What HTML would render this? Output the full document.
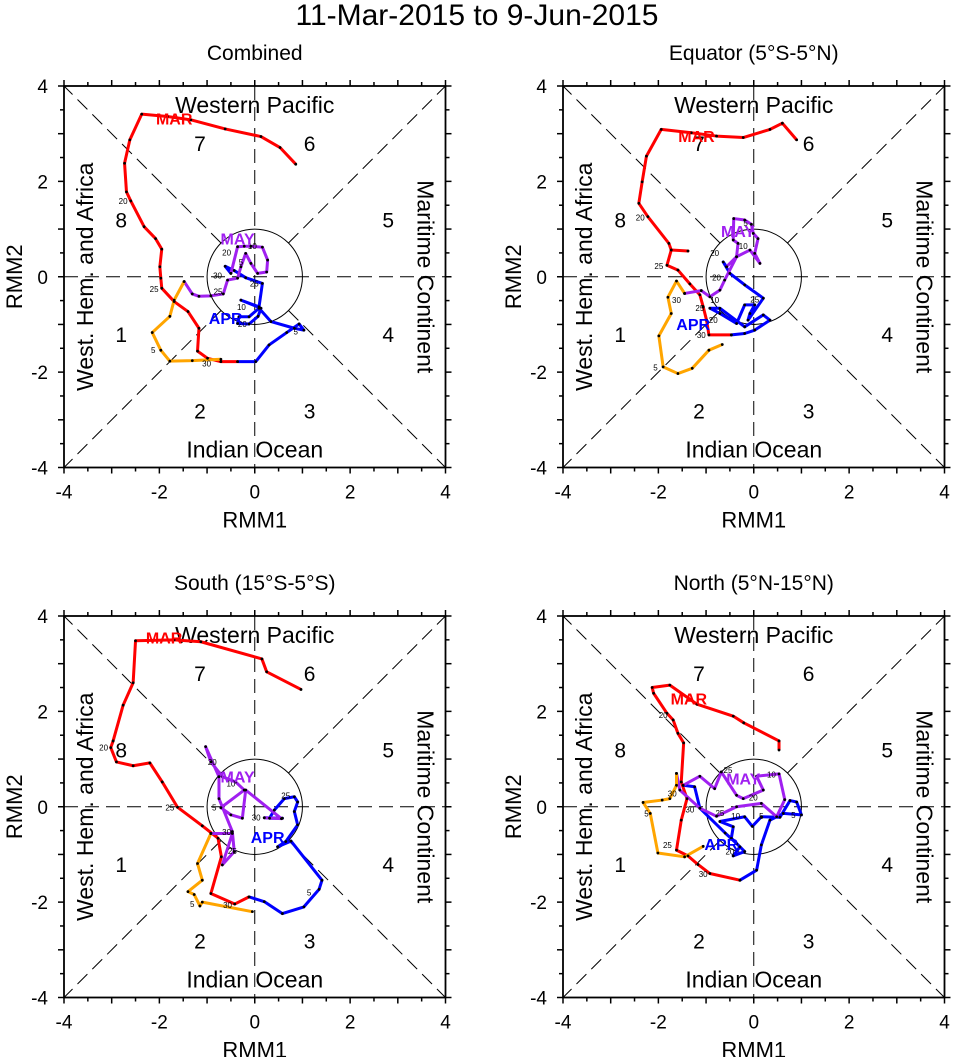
<!DOCTYPE html>
<html><head><meta charset="utf-8"><style>
html,body{margin:0;padding:0;background:#fff}
svg{display:block;font-family:"Liberation Sans",Arial,sans-serif}
</style></head><body>
<svg id="chart" width="956" height="1057" viewBox="0 0 956 1057" xmlns="http://www.w3.org/2000/svg">
<text x="477" y="25" text-anchor="middle" font-size="30">11-Mar-2015 to 9-Jun-2015</text>
</svg>
<script>
const panelTitles = ["Combined","Equator (5°S-5°N)","South (15°S-5°S)","North (5°N-15°N)"];
const axisTicks = [-4,-2,0,2,4];
const tickLabels = ["-4","-2","0","2","4"];
const phaseNumbers = ["1","2","3","4","5","6","7","8"];

// Panel 1: Combined
const p1Mar = [[0.86,2.36],[0.53,2.71],[0.13,2.94],[-0.62,3.10],[-1.34,3.29],[-1.83,3.36],[-2.37,3.41],[-2.62,2.87],[-2.73,2.38],[-2.69,1.78],[-2.60,1.59],[-2.32,1.05],[-2.08,0.80],[-1.95,0.58],[-1.99,0.21],[-1.97,-0.03],[-1.95,-0.24],[-1.69,-0.52],[-1.40,-0.73],[-1.17,-1.08],[-1.20,-1.56],[-0.99,-1.71],[-0.71,-1.78],[-0.36,-1.78]];
const p1Apr = [[-0.36,-1.78],[0.02,-1.78],[0.30,-1.43],[0.67,-1.17],[0.93,-0.99],[1.03,-1.12],[0.83,-1.08],[0.34,-0.94],[0.09,-0.66],[-0.12,-0.84],[-0.33,-0.84],[-0.36,-0.98],[-0.12,-0.99],[0.07,-0.83],[0.13,-0.66],[-0.29,-0.49],[0.09,-0.63],[0.16,-0.14],[-0.19,-0.02],[-0.43,0.13],[-0.62,0.22],[-0.50,0.07]];
const p1May = [[-0.50,0.07],[-0.36,0.63],[-0.22,0.64],[-0.08,0.64],[0.16,0.62],[0.27,0.35],[0.25,0.10],[0.06,0.07],[-0.08,0.28],[-0.19,0.49],[-0.29,0.21],[-0.36,-0.03],[-0.57,-0.07],[-0.66,-0.36],[-0.92,-0.40],[-1.17,-0.41],[-1.31,-0.36],[-1.48,-0.10]];
const p1Jun = [[-1.48,-0.10],[-1.69,-0.49],[-1.78,-0.83],[-2.15,-1.17],[-1.97,-1.54],[-1.78,-1.77],[-1.31,-1.76],[-0.71,-1.73]];
const p1Months = [["MAR",-1.69,3.32,"#ff0000"],["APR",-0.61,-0.87,"#0000ff"],["MAY",-0.36,0.80,"#a020f0"]];
const p1Days = [["20",-2.76,1.59],["25",-2.11,-0.26],["5",-2.13,-1.54],["30",-1.01,-1.82],["30",-0.78,0.03],["25",-0.77,-0.31],["20",-0.59,0.51],["5",-0.29,0.31],["10",-0.05,0.64],["25",-0.01,-0.14],["10",-0.28,-0.63],["20",-0.26,-0.99],["5",0.86,-1.15]];

// Panel 2: Equator
const p2Mar = [[0.90,2.87],[0.60,3.22],[0.34,3.09],[-0.22,2.92],[-0.78,2.95],[-1.31,3.02],[-1.94,3.09],[-2.25,2.53],[-2.34,1.99],[-2.41,1.54],[-2.22,1.26],[-1.78,0.70],[-1.73,0.56],[-1.38,0.54],[-1.73,0.56],[-1.82,0.24],[-1.59,0.14],[-1.34,-0.15],[-1.13,-0.38],[-1.06,-0.63],[-0.99,-0.91],[-0.94,-1.22],[-0.47,-1.22]];
const p2Apr = [[-0.47,-1.22],[-0.19,-1.19],[0.02,-1.12],[0.34,-0.91],[0.20,-0.80],[-0.19,-1.05],[-0.71,-0.66],[-0.92,-0.66],[-0.71,-0.77],[-0.36,-0.98],[-0.19,-0.59],[0.02,-0.59],[-0.08,-0.77],[-0.12,-0.91],[0.20,-0.45],[-0.19,-0.17],[-0.50,0.07],[-0.64,0.31],[-0.57,0.21]];
const p2May = [[-0.57,0.21],[-0.36,0.42],[-0.33,0.70],[-0.43,0.77],[-0.42,1.22],[-0.19,1.19],[-0.05,1.10],[-0.01,0.91],[0.09,0.80],[0.02,0.49],[0.13,0.28],[-0.08,0.56],[-0.36,0.42],[-0.61,-0.07],[-0.71,-0.28],[-0.92,-0.42],[-1.10,-0.29],[-1.45,-0.35]];
const p2Jun = [[-1.45,-0.35],[-1.62,-0.09],[-1.80,-0.43],[-1.73,-0.77],[-1.99,-1.24],[-1.90,-1.89],[-1.59,-2.03],[-1.29,-1.92],[-0.94,-1.54],[-0.66,-1.42]];
const p2Months = [["MAR",-1.20,2.95,"#ff0000"],["APR",-1.27,-0.99,"#0000ff"],["MAY",-0.33,0.96,"#a020f0"]];
const p2Days = [["20",-2.38,1.24],["25",-1.99,0.23],["5",-2.06,-1.90],["30",-1.62,-0.49],["20",-0.82,0.50],["20",-0.78,-0.02],["10",-0.82,-0.49],["25",-1.13,-0.66],["20",-0.85,-0.91],["30",-1.10,-1.22],["10",-0.22,0.65],["25",0.02,-0.48],["5",-0.17,1.13]];

// Panel 3: South
const p3Mar = [[0.97,2.46],[0.25,2.83],[0.15,3.10],[-1.13,3.46],[-1.69,3.50],[-2.50,3.48],[-2.55,2.60],[-2.76,2.13],[-2.97,1.38],[-3.02,1.24],[-2.90,0.94],[-2.55,0.86],[-2.20,0.92],[-1.94,0.52],[-1.62,-0.01],[-1.10,-0.40],[-0.77,-0.66],[-0.70,-1.05],[-0.92,-1.82],[-0.42,-2.04],[-0.12,-1.89]];
const p3Apr = [[-0.12,-1.89],[0.20,-1.99],[0.58,-2.24],[1.03,-2.10],[1.35,-1.73],[1.41,-1.54],[0.76,-0.72],[0.48,-0.84],[0.65,-0.73],[0.90,-0.38],[0.83,-0.10],[0.90,0.10],[0.83,0.21],[0.62,0.17],[0.41,-0.07],[0.31,-0.24],[0.58,-0.24],[0.20,-0.23]];
const p3May = [[0.20,-0.23],[0.56,-0.25],[-0.19,0.35],[-0.26,-0.24],[-0.50,-0.17],[-0.71,-0.02],[-0.22,0.35],[-0.40,0.52],[-0.68,0.63],[-0.92,0.94],[-1.03,1.26],[-0.75,0.63],[-0.75,0.17],[-0.47,-0.52],[-0.43,-0.94],[-0.68,-1.22],[-0.47,-0.56],[-0.92,-0.56]];
const p3Jun = [[-0.92,-0.56],[-1.20,-1.19],[-1.10,-1.54],[-1.40,-1.78],[-1.27,-1.84],[-1.15,-2.08],[-1.10,-2.00],[-0.05,-2.20]];
const p3Months = [["MAR",-1.90,3.55,"#ff0000"],["APR",0.27,-0.63,"#0000ff"],["MAY",-0.36,0.63,"#a020f0"]];
const p3Days = [["20",-3.17,1.24],["25",-1.78,-0.02],["5",-1.31,-2.04],["30",-0.57,-2.06],["20",-0.89,0.94],["10",-0.50,0.49],["5",-0.85,-0.02],["30",-0.59,-0.53],["25",-0.47,-0.93],["30",0.03,-0.23],["25",0.65,0.24],["5",1.14,-1.80]];

// Panel 4: North
const p4Mar = [[0.53,1.19],[0.53,1.38],[-0.21,1.76],[-0.43,1.90],[-1.19,2.15],[-1.76,2.55],[-2.13,2.50],[-2.10,2.38],[-1.82,1.96],[-1.69,1.82],[-1.59,1.54],[-1.47,1.34],[-1.52,0.52],[-1.40,0.17],[-1.52,-0.28],[-1.62,-0.91],[-1.38,-1.03],[-1.17,-1.21],[-0.92,-1.40],[-0.29,-1.54]];
const p4Apr = [[-0.29,-1.54],[0.06,-1.33],[0.16,-0.80],[0.34,-0.28],[0.62,-0.14],[1.00,-0.17],[0.90,0.10],[0.76,0.13],[0.55,-0.22],[0.16,-0.21],[-0.03,-0.41],[-0.19,-0.21],[-0.71,-0.31],[-0.43,-0.42],[-0.47,-0.66],[-0.29,-0.84],[-0.43,-1.03],[-0.19,-0.94],[-0.36,-0.77],[-0.60,-0.55],[-1.13,-0.03],[-1.24,0.42],[-1.48,0.45]];
const p4May = [[-1.48,0.45],[-1.13,0.64],[-0.82,0.38],[-0.68,0.73],[-0.36,0.24],[-0.22,0.17],[0.20,0.35],[0.06,0.64],[0.53,0.69],[0.65,0.15],[0.48,-0.21],[0.16,0.07],[-0.36,0.00],[-0.78,-0.20],[-1.13,-0.03],[-1.55,0.35],[-1.62,0.70]];
const p4Jun = [[-1.62,0.70],[-1.62,0.45],[-1.76,0.17],[-1.92,0.14],[-2.32,0.09],[-2.17,-0.14],[-2.01,-0.97],[-1.45,-1.05],[-1.06,-0.83]];
const p4Months = [["MAR",-1.36,2.27,"#ff0000"],["APR",-0.68,-0.78,"#0000ff"],["MAY",-0.22,0.59,"#a020f0"]];
const p4Days = [["20",-1.90,1.92],["25",-1.81,-0.80],["5",-2.25,-0.14],["30",-1.06,-1.41],["30",-1.71,0.28],["30",-1.34,-0.06],["25",-0.71,-0.13],["10",-0.38,-0.19],["20",-0.01,0.19],["10",0.37,0.68],["25",-0.54,0.77],["5",0.16,-0.19],["5",0.83,-0.17],["20",-0.50,-0.94]];

const svg = document.getElementById('chart');
const NS = 'http://www.w3.org/2000/svg';
function mk(tag, attrs, parent){
  const e = document.createElementNS(NS, tag);
  for (const k in attrs) e.setAttribute(k, attrs[k]);
  parent.appendChild(e);
  return e;
}
const panels = [
  {x0:64,y0:86,series:[p1Mar,p1Apr,p1May,p1Jun],months:p1Months,days:p1Days},
  {x0:563,y0:86,series:[p2Mar,p2Apr,p2May,p2Jun],months:p2Months,days:p2Days},
  {x0:64,y0:616,series:[p3Mar,p3Apr,p3May,p3Jun],months:p3Months,days:p3Days},
  {x0:563,y0:616,series:[p4Mar,p4Apr,p4May,p4Jun],months:p4Months,days:p4Days}
];
const W = 381.5;
const colors = ["#ff0000","#0000ff","#a020f0","#ffa500"];
const seriesNames = ["march","april","may","june"];

panels.forEach((p, pi) => {
  const g = mk('g', {}, svg);
  
  
  const sx = v => p.x0 + (v + 4) / 8 * W;
  const sy = v => p.y0 + (4 - v) / 8 * W;
  const cx = sx(0), cy = sy(0), r = W / 8;

  const t = mk('text', {x: cx, y: p.y0 - 26, 'text-anchor':'middle', 'font-size':21}, g);
  t.textContent = panelTitles[pi];
  
  

  const dash = {stroke:'#000','stroke-width':1,'stroke-dasharray':'14,7',fill:'none'};
  const hl = mk('line', Object.assign({x1:p.x0,y1:cy,x2:p.x0+W,y2:cy}, dash), g);
  
  
  const vl = mk('line', Object.assign({x1:cx,y1:p.y0,x2:cx,y2:p.y0+W}, dash), g);
  
  
  [[1,1],[1,-1],[-1,1],[-1,-1]].forEach(d => {
    const k = Math.SQRT1_2;
    const dl = mk('line', Object.assign({x1:sx(d[0]*k),y1:sy(d[1]*k),x2:sx(d[0]*4),y2:sy(d[1]*4)}, dash), g);
    
    
  });
  const c = mk('circle', {cx:cx, cy:cy, r:r, fill:'none', stroke:'#000', 'stroke-width':1}, g);
  
  

  const fr = mk('rect', {x:p.x0, y:p.y0, width:W, height:W, fill:'none', stroke:'#000', 'stroke-width':1.8}, g);
  
  

  // outward ticks on all sides
  for (let v = -4; v <= 4.001; v += 0.5) {
    const major = Math.abs(v - Math.round(v)) < 0.01;
    const L = major ? 6 : 4;
    const tw = {stroke:'#000','stroke-width':1.5};
    mk('line', Object.assign({x1:sx(v),y1:p.y0+W,x2:sx(v),y2:p.y0+W+L}, tw), g);
    mk('line', Object.assign({x1:sx(v),y1:p.y0,x2:sx(v),y2:p.y0-L}, tw), g);
    mk('line', Object.assign({x1:p.x0,y1:sy(v),x2:p.x0-L,y2:sy(v)}, tw), g);
    mk('line', Object.assign({x1:p.x0+W,y1:sy(v),x2:p.x0+W+L,y2:sy(v)}, tw), g);
  }
  axisTicks.forEach((v, i) => {
    const xt = mk('text', {x:sx(v), y:p.y0+W+31, 'text-anchor':'middle', 'font-size':19}, g);
    xt.textContent = tickLabels[i];
    
    
    const yt = mk('text', {x:p.x0-16, y:sy(v)+7, 'text-anchor':'end', 'font-size':19}, g);
    yt.textContent = tickLabels[i];
    
    
  });
  const xa = mk('text', {x:cx, y:p.y0+W+60, 'text-anchor':'middle', 'font-size':22}, g);
  xa.textContent = 'RMM1';
  
  
  const ya = mk('text', {x:0, y:0, 'text-anchor':'middle', 'font-size':22, transform:`translate(${p.x0-42},${cy}) rotate(-90)`}, g);
  ya.textContent = 'RMM2';
  
  

  const wp = mk('text', {x:cx, y:p.y0+27, 'text-anchor':'middle', 'font-size':23}, g);
  wp.textContent = 'Western Pacific';
  
  
  const io = mk('text', {x:cx, y:p.y0+W-10, 'text-anchor':'middle', 'font-size':23}, g);
  io.textContent = 'Indian Ocean';
  
  
  const wh = mk('text', {x:0, y:0, 'text-anchor':'middle', 'font-size':23, transform:`translate(${p.x0+29},${cy}) rotate(-90)`}, g);
  wh.textContent = 'West. Hem. and Africa';
  
  
  const mc = mk('text', {x:0, y:0, 'text-anchor':'middle', 'font-size':23, transform:`translate(${p.x0+W-28},${cy}) rotate(90)`}, g);
  mc.textContent = 'Maritime Continent';
  
  

  const phasePos = [[-2.8,-1.2],[-1.15,-2.8],[1.15,-2.8],[2.8,-1.2],[2.8,1.2],[1.15,2.8],[-1.15,2.8],[-2.8,1.2]];
  phaseNumbers.forEach((n, i) => {
    const pt = mk('text', {x:sx(phasePos[i][0]), y:sy(phasePos[i][1])+8, 'text-anchor':'middle', 'font-size':21}, g);
    pt.textContent = n;
    
    
  });

  p.series.forEach((s, si) => {
    const pl = mk('polyline', {points: s.map(q => sx(q[0]) + ',' + sy(q[1])).join(' '), fill:'none', stroke:colors[si], 'stroke-width':3, 'stroke-linejoin':'round'}, g);
    
    
  });
  p.series.forEach((s, si) => {
    s.forEach(q => {
      const d = mk('circle', {cx:sx(q[0]), cy:sy(q[1]), r:1.4, fill:'#000'}, g);
      
      
    });
  });
  p.days.forEach(d => {
    const dt = mk('text', {x:sx(d[1]), y:sy(d[2])+3, 'text-anchor':'middle', 'font-size':8}, g);
    dt.textContent = d[0];
    
    
  });
  p.months.forEach(m => {
    const mt = mk('text', {x:sx(m[1]), y:sy(m[2])+6, 'text-anchor':'middle', 'font-size':16, 'font-weight':'bold', fill:m[3]}, g);
    mt.textContent = m[0];
    
    
  });
});
</script>
</body></html>
